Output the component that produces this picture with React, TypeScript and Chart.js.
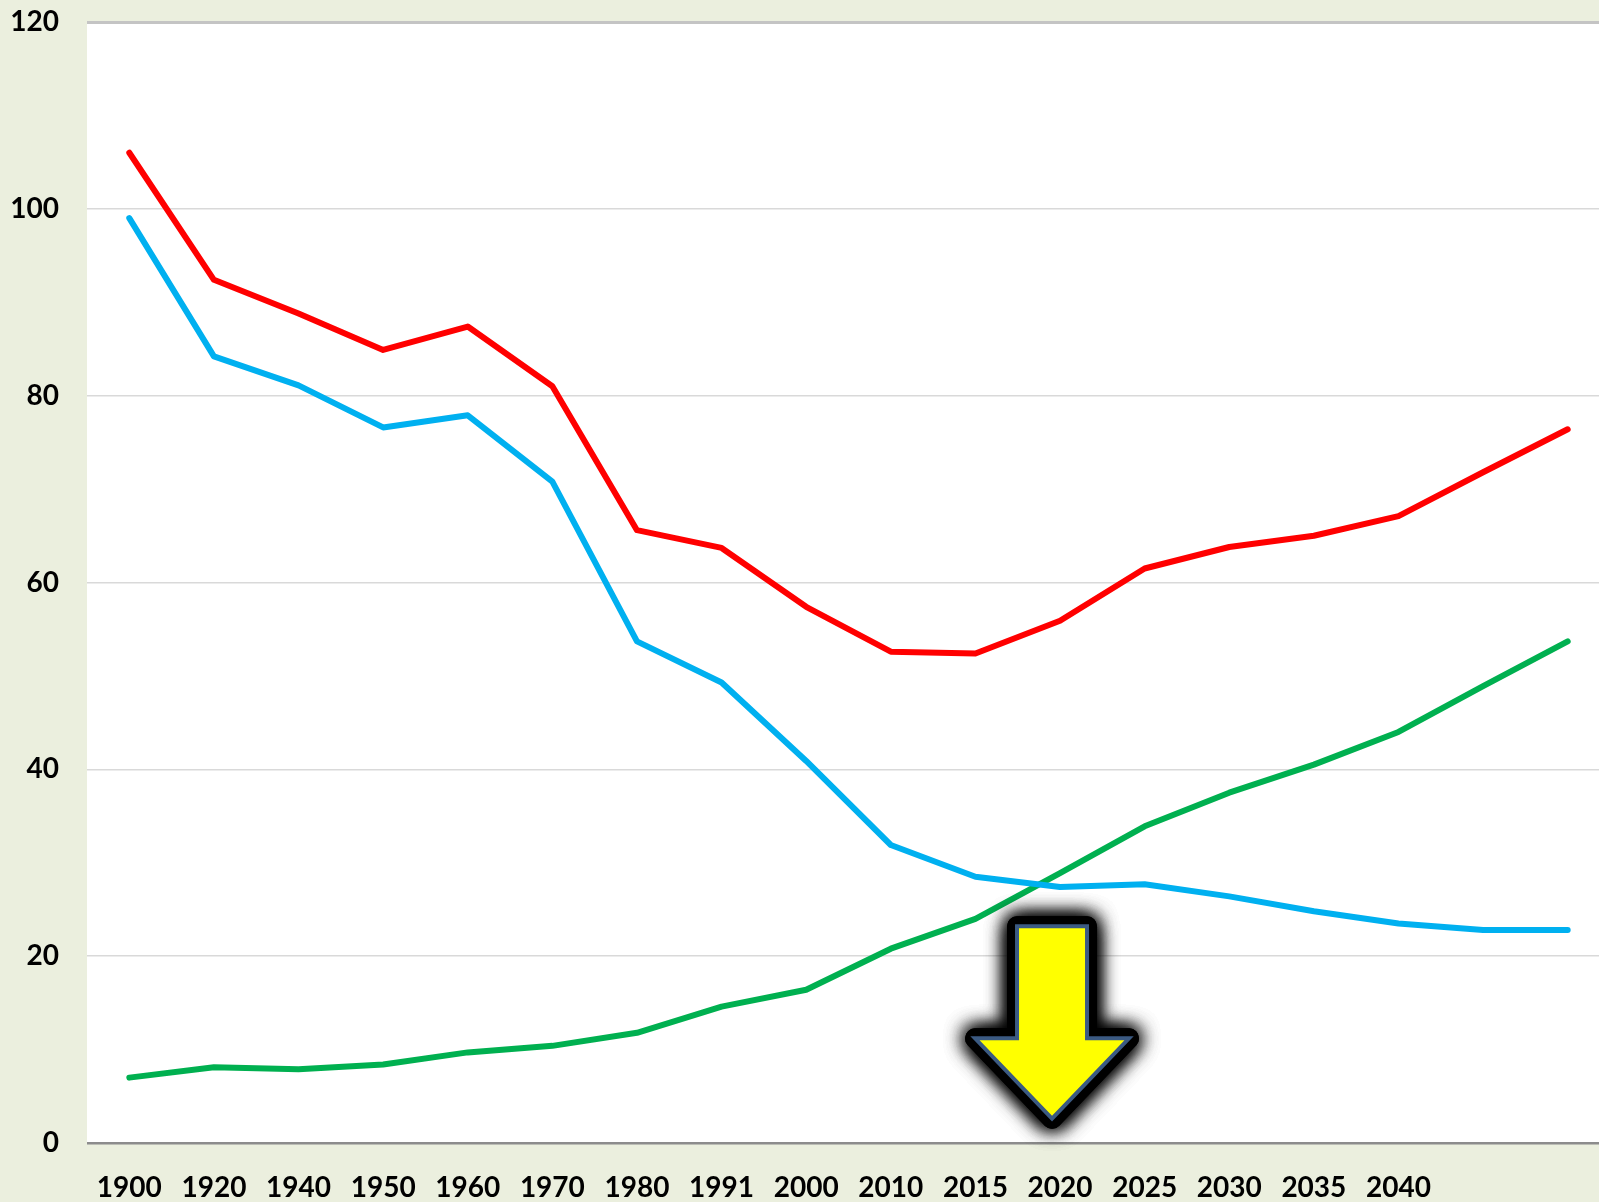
import React, { useEffect, useRef } from "react";
import { Chart, registerables } from "chart.js";

Chart.register(...registerables);

const categories = ["1900", "1920", "1940", "1950", "1960", "1970", "1980", "1991", "2000", "2010", "2015", "2020", "2025", "2030", "2035", "2040", "", ""];
const redSeries = [106, 92.4, 88.8, 84.9, 87.4, 81.0, 65.6, 63.7, 57.4, 52.6, 52.4, 55.9, 61.5, 63.8, 65.0, 67.1, 71.8, 76.4];
const blueSeries = [99.0, 84.2, 81.1, 76.6, 77.9, 70.8, 53.7, 49.3, 40.9, 31.9, 28.5, 27.4, 27.7, 26.4, 24.8, 23.5, 22.8, 22.8];
const greenSeries = [7.0, 8.1, 7.9, 8.4, 9.7, 10.4, 11.8, 14.6, 16.4, 20.8, 24.0, 28.9, 33.9, 37.5, 40.5, 44.0, 48.9, 53.7];
const yTicks = [0, 20, 40, 60, 80, 100, 120];

// arrow annotation (category index, values in data units)
const arrowIndex = 11;
const arrowTop = 23.2;
const arrowShoulder = 11.2;
const arrowTip = 2.6;

const FONT = "Lato, 'Open Sans', 'Liberation Sans', sans-serif";

const bgPlugin = {
  id: "bgPlugin",
  beforeDraw(chart: any) {
    const { ctx, chartArea, width, height } = chart;
    ctx.save();
    ctx.fillStyle = "#EBEFDE";
    ctx.fillRect(0, 0, width, height);
    ctx.fillStyle = "#FFFFFF";
    ctx.fillRect(chartArea.left, chartArea.top, chartArea.right - chartArea.left, chartArea.bottom - chartArea.top);
    ctx.restore();
  },
};

const arrowPlugin = {
  id: "arrowPlugin",
  afterDatasetsDraw(chart: any) {
    const { ctx } = chart;
    const xs = chart.scales.x;
    const ys = chart.scales.y;
    const cx = xs.getPixelForValue(arrowIndex) - 8;
    const yTop = ys.getPixelForValue(arrowTop);
    const ySh = ys.getPixelForValue(arrowShoulder);
    const yTip = ys.getPixelForValue(arrowTip);
    const sw = 35;
    const hw = 77;
    const path = () => {
      ctx.beginPath();
      ctx.moveTo(cx - sw, yTop);
      ctx.lineTo(cx + sw, yTop);
      ctx.lineTo(cx + sw, ySh);
      ctx.lineTo(cx + hw, ySh);
      ctx.lineTo(cx, yTip);
      ctx.lineTo(cx - hw, ySh);
      ctx.lineTo(cx - sw, ySh);
      ctx.closePath();
    };
    ctx.save();
    ctx.lineJoin = "round";
    ctx.shadowColor = "rgba(0,0,0,1)";
    ctx.shadowBlur = 20;
    for (let i = 0; i < 3; i++) {
      path();
      ctx.fillStyle = "#000";
      ctx.fill();
      ctx.lineWidth = 20;
      ctx.strokeStyle = "rgba(0,0,0,0.8)";
      ctx.stroke();
    }
    ctx.restore();
    ctx.save();
    ctx.lineJoin = "miter";
    path();
    ctx.fillStyle = "#FFFF00";
    ctx.fill();
    ctx.lineWidth = 4;
    ctx.strokeStyle = "#3B5A82";
    ctx.stroke();
    ctx.restore();
  },
};

export default function App() {
  const ref = useRef<HTMLCanvasElement | null>(null);
  useEffect(() => {
    document.body.style.margin = "0";
    const canvas = ref.current;
    if (!canvas) return;
    const lineStyle = { borderWidth: 6, pointRadius: 0, tension: 0, fill: false, borderCapStyle: "round", borderJoinStyle: "round" };
    const chart = new Chart(canvas, {
      type: "line",
      data: {
        labels: categories,
        datasets: [
          { data: redSeries, borderColor: "#FF0000", ...lineStyle },
          { data: blueSeries, borderColor: "#00B0F0", ...lineStyle },
          { data: greenSeries, borderColor: "#00B050", ...lineStyle },
        ],
      },
      options: {
        animation: false,
        responsive: false,
        maintainAspectRatio: false,
        devicePixelRatio: 1,
        layout: { padding: { top: 22, right: 0, left: 0, bottom: 0 } },
        plugins: { legend: { display: false }, tooltip: { enabled: false }, title: { display: false } },
        scales: {
          x: {
            type: "category",
            offset: true,
            grid: { display: false, drawTicks: false },
            border: { display: false },
            ticks: {
              color: "#000",
              font: { family: FONT, size: 28, weight: "bold" },
              padding: 28,
              maxRotation: 0,
              autoSkip: false,
            },
            afterFit(scale: any) {
              scale.height = 59;
              scale.paddingLeft = 0;
              scale.paddingRight = 0;
            },
          },
          y: {
            min: 0,
            max: 120,
            afterBuildTicks(scale: any) {
              scale.ticks = yTicks.map((v) => ({ value: v }));
            },
            grid: {
              drawTicks: false,
              color: (c: any) => (c.tick && c.tick.value === 0 ? "#8C8C8C" : c.tick && c.tick.value === 120 ? "#C4C4C4" : "#D9D9D9"),
              lineWidth: (c: any) => (c.tick && c.tick.value === 0 ? 2.5 : c.tick && c.tick.value === 120 ? 3 : 1.5),
            },
            border: { display: false },
            ticks: {
              color: "#000",
              font: { family: FONT, size: 28, weight: "bold" },
              padding: 28,
            },
            afterFit(scale: any) {
              scale.width = 87;
              scale.paddingTop = 0;
              scale.paddingBottom = 0;
            },
          },
        },
      },
      plugins: [bgPlugin, arrowPlugin],
    } as any);
    return () => chart.destroy();
  }, []);
  return (
    <div style={{ width: 1599, height: 1202, background: "#EBEFDE", overflow: "hidden" }}>
      <canvas ref={ref} width={1610} height={1202} style={{ display: "block", width: 1610, height: 1202 }} />
    </div>
  );
}
